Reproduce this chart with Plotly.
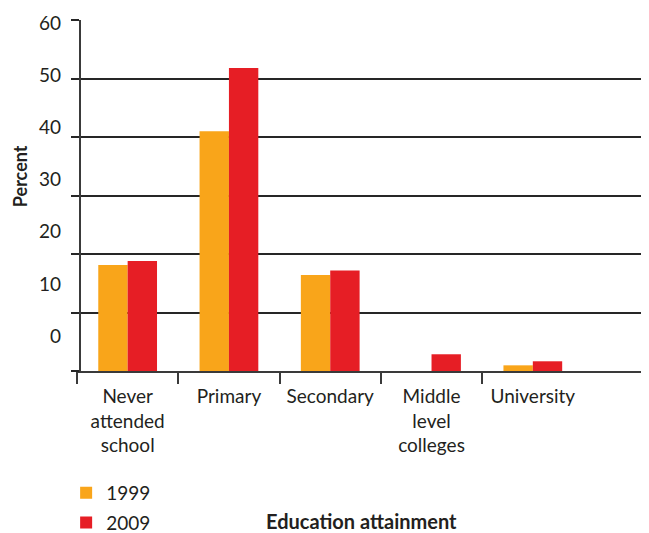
import plotly.graph_objects as go

categories = ["Never<br>attended<br>school", "Primary", "Secondary", "Middle<br>level<br>colleges", "University"]
values_1999 = [18.1, 41.0, 16.4, None, 0.97]
values_2009 = [18.8, 51.8, 17.2, 2.86, 1.66]
series_names = ["1999", "2009"]
colors = ["#F9A51A", "#E61E25"]
y_ticks = [0, 10, 20, 30, 40, 50, 60]
x_boundaries = [-0.5, 0.5, 1.5, 2.5, 3.5]

FONT = "Lato"
TXT = "#231F20"
AX = "#3A3A3A"
GRID = "#262626"
X_RANGE = [-0.5, 5.147]

fig = go.Figure()
for name, vals, col in zip(series_names, [values_1999, values_2009], colors):
    fig.add_trace(go.Bar(x=categories, y=vals, name=name, marker_color=col,
                         marker_line_width=0, legendgroup=name))
# empty helper trace so the boundary-tick axis is rendered
fig.add_trace(go.Scatter(x=[None], y=[None], xaxis="x2", yaxis="y", showlegend=False,
                         hoverinfo="skip", mode="markers"))

annotations = []
# y tick labels (drawn as text, evenly spaced as in the original)
for v in y_ticks:
    annotations.append(dict(x=-0.0245, xref="paper", y=6.1 + 0.892 * v, yref="y",
                            text=str(v), showarrow=False, xanchor="right", yanchor="middle",
                            font=dict(family=FONT, size=19, color=TXT)))
annotations.append(dict(x=-0.0997, xref="paper", y=33.3, yref="y", text="<b>Percent</b>",
                        textangle=-90, showarrow=False, xanchor="center", yanchor="middle",
                        font=dict(family=FONT, size=18, color=TXT)))
annotations.append(dict(x=0.497, xref="paper", y=-0.426, yref="paper",
                        text="<b>Education attainment</b>", showarrow=False,
                        xanchor="center", yanchor="middle",
                        font=dict(family=FONT, size=20, color=TXT)))

fig.update_layout(
    width=641, height=525,
    margin=dict(l=69, r=0, t=12, b=162, autoexpand=False),
    plot_bgcolor="white", paper_bgcolor="white",
    barmode="group", bargap=0.42, bargroupgap=0,
    font=dict(family=FONT, size=19, color=TXT),
    legend=dict(x=-0.019, xanchor="left", y=-0.293, yanchor="top",
                font=dict(family=FONT, size=19, color=TXT),
                traceorder="grouped", tracegroupgap=2, itemwidth=30,
                bgcolor="rgba(0,0,0,0)"),
    annotations=annotations,
    xaxis=dict(range=X_RANGE, domain=[0, 1], showgrid=False, showline=True, linecolor=AX,
               linewidth=2, ticks="", ticklabelstandoff=7,
               tickfont=dict(family=FONT, size=19, color=TXT)),
    xaxis2=dict(range=X_RANGE, type="linear", overlaying="x", anchor="y", side="bottom",
                showgrid=False, showline=False, zeroline=False, showticklabels=False,
                tickvals=x_boundaries, ticks="outside", ticklen=12, tickwidth=2, tickcolor=AX),
    yaxis=dict(range=[0, 60], tickvals=y_ticks, ticktext=["" for _ in y_ticks],
               anchor="free", position=0.0052,
               showgrid=True, gridcolor=GRID, gridwidth=1.5,
               showline=True, linecolor=AX, linewidth=2,
               ticks="outside", ticklen=8, tickwidth=1.5, tickcolor=GRID, zeroline=False),
)

fig.write_html("out.html")
